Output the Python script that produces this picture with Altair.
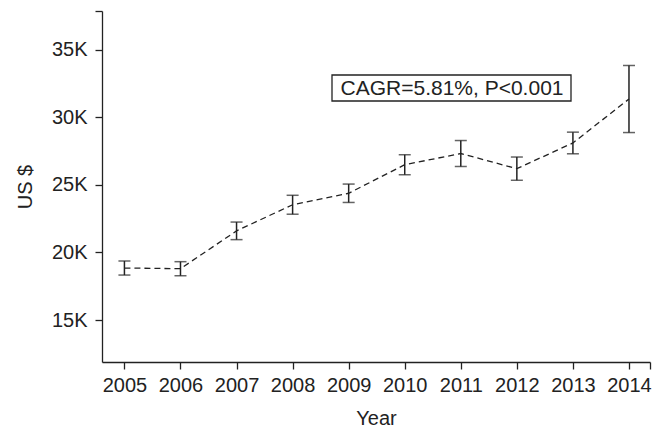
import altair as alt
import pandas as pd

years = [2005, 2006, 2007, 2008, 2009, 2010, 2011, 2012, 2013, 2014]
means = [18850, 18800, 21600, 23530, 24380, 26490, 27320, 26200, 28100, 31350]
errs = [520, 520, 650, 700, 680, 740, 960, 860, 800, 2480]
y_ticks = [15000, 20000, 25000, 30000, 35000, 37860]
x_ticks = [2005, 2006, 2007, 2008, 2009, 2010, 2011, 2012, 2013, 2014, 2014.375]
annotation = "CAGR=5.81%, P<0.001"

df = pd.DataFrame({
    "year": years,
    "mean": means,
    "lo": [m - e for m, e in zip(means, errs)],
    "hi": [m + e for m, e in zip(means, errs)],
})

FONT = "Liberation Sans"
INK = "#222222"

x_scale = alt.Scale(domain=[2004.6, 2014.375], nice=False, zero=False)
y_scale = alt.Scale(domain=[11900, 37860], nice=False, zero=False)

x_axis = alt.Axis(
    values=x_ticks,
    labelExpr="datum.value > 2014.2 ? '' : format(datum.value, 'd')",
    title="Year",
    grid=False,
    labelPadding=6,
    titlePadding=13,
)
y_axis = alt.Axis(
    values=y_ticks,
    labelExpr="datum.value > 36000 ? '' : format(datum.value / 1000, 'd') + 'K'",
    title="US $",
    grid=False,
    labelPadding=8,
    titlePadding=16,
)

base = alt.Chart(df)

line = base.mark_line(color=INK, strokeWidth=1.3, strokeDash=[6, 4]).encode(
    x=alt.X("year:Q", scale=x_scale, axis=x_axis),
    y=alt.Y("mean:Q", scale=y_scale, axis=y_axis),
)

bars = base.mark_rule(color=INK, strokeWidth=1.5).encode(
    x=alt.X("year:Q", scale=x_scale),
    y=alt.Y("lo:Q", scale=y_scale),
    y2="hi:Q",
)

cap_lo = base.mark_tick(color=INK, thickness=1.5, size=12, orient="horizontal").encode(
    x=alt.X("year:Q", scale=x_scale),
    y=alt.Y("lo:Q", scale=y_scale),
)
cap_hi = base.mark_tick(color=INK, thickness=1.5, size=12, orient="horizontal").encode(
    x=alt.X("year:Q", scale=x_scale),
    y=alt.Y("hi:Q", scale=y_scale),
)

box = alt.Chart(pd.DataFrame({"t": [annotation]})).mark_rect(
    fill="white", stroke=INK, strokeWidth=1.3
).encode(
    x=alt.value(230), x2=alt.value(469), y=alt.value(64), y2=alt.value(90)
)
label = alt.Chart(pd.DataFrame({"t": [annotation]})).mark_text(
    font=FONT, fontSize=21, color=INK, align="center", baseline="middle"
).encode(
    text="t:N", x=alt.value(350), y=alt.value(77.5)
)

chart = alt.layer(line, bars, cap_lo, cap_hi, box, label).properties(
    width=548,
    height=351,
    autosize=alt.AutoSizeParams(type="none"),
    padding={"left": 94, "top": 3, "right": 2, "bottom": 67},
).configure(background="white").configure_view(stroke=None).configure_axis(
    domainColor=INK,
    domainWidth=1.3,
    tickColor=INK,
    tickWidth=1.3,
    tickSize=7,
    labelFont=FONT,
    labelFontSize=20,
    labelColor=INK,
    titleFont=FONT,
    titleFontSize=20,
    titleFontWeight="normal",
    titleColor=INK,
)

chart.save("out.html", embed_options={"renderer": "svg", "actions": False})
